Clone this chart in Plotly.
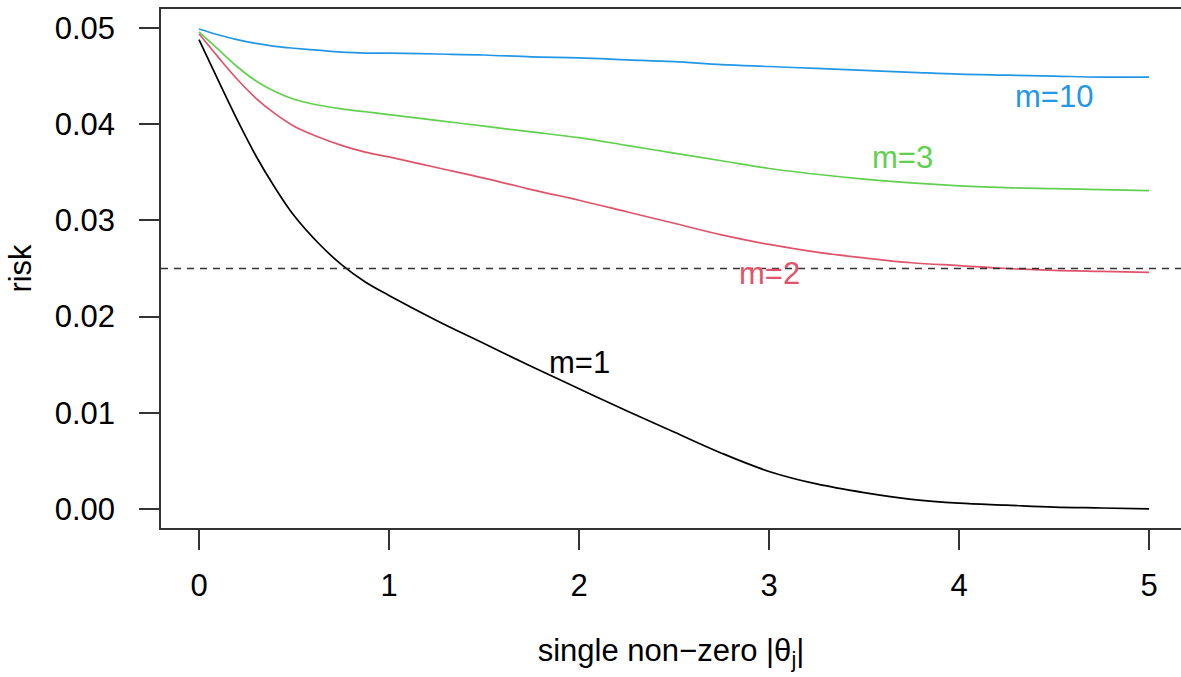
import plotly.graph_objects as go

theta = [0, 0.1, 0.2, 0.3, 0.4, 0.5, 0.625, 0.75, 0.875, 1, 1.25, 1.5, 1.75, 2,
         2.25, 2.5, 2.75, 3, 3.25, 3.5, 3.75, 4, 4.25, 4.5, 4.75, 5]
risk_m1 = [0.0488, 0.0446, 0.0405, 0.0367, 0.0334, 0.0305, 0.0277, 0.0254, 0.0236, 0.0222,
           0.0196, 0.0172, 0.0148, 0.0125, 0.0102, 0.0080, 0.0058, 0.0039, 0.0026, 0.0017,
           0.0010, 0.0006, 0.0004, 0.0002, 0.0001, 0.0000]
risk_m2 = [0.0494, 0.0470, 0.0447, 0.0427, 0.0411, 0.0398, 0.0387, 0.0378, 0.0371, 0.0366,
           0.0355, 0.0344, 0.0332, 0.0321, 0.0309, 0.0297, 0.0285, 0.0275, 0.0267, 0.0261,
           0.0256, 0.0253, 0.0250, 0.0248, 0.0247, 0.0246]
risk_m3 = [0.0496, 0.0478, 0.0460, 0.0445, 0.0434, 0.0426, 0.0420, 0.0416, 0.0413, 0.0410,
           0.0404, 0.0398, 0.0392, 0.0386, 0.0378, 0.0370, 0.0362, 0.0354, 0.0348, 0.0343,
           0.0339, 0.0336, 0.0334, 0.0333, 0.0332, 0.0331]
risk_m10 = [0.0499, 0.0493, 0.0488, 0.0484, 0.0481, 0.0479, 0.0477, 0.0475, 0.0474, 0.0474,
            0.0473, 0.0472, 0.0470, 0.0469, 0.0467, 0.0465, 0.0462, 0.0460, 0.0458, 0.0456,
            0.0454, 0.0452, 0.0451, 0.0450, 0.0449, 0.0449]

series_names = ["m=1", "m=2", "m=3", "m=10"]
series_values = [risk_m1, risk_m2, risk_m3, risk_m10]
series_colors = ["#000000", "#DF536B", "#61D04F", "#2297E6"]
label_x = [2.0, 3.0, 3.7, 4.5]
label_y = [0.0152, 0.0245, 0.0365, 0.0429]
threshold = 0.025

x_ticks = [0, 1, 2, 3, 4, 5]
y_ticks = [0.00, 0.01, 0.02, 0.03, 0.04, 0.05]
y_tick_text = ["0.00", "0.01", "0.02", "0.03", "0.04", "0.05"]

FONT = "Liberation Sans, Arial, sans-serif"
FS = 31

fig = go.Figure()
for name, vals, col in zip(series_names, series_values, series_colors):
    fig.add_trace(go.Scatter(x=theta, y=vals, mode="lines", name=name,
                             line=dict(color=col, width=1.7, shape="spline", smoothing=1.0),
                             showlegend=False, hoverinfo="skip"))

fig.add_hline(y=threshold, line=dict(color="#333333", width=1.5, dash="7px,6px"))

for name, lx, ly, col in zip(series_names, label_x, label_y, series_colors):
    fig.add_annotation(x=lx, y=ly, text=name, showarrow=False,
                       font=dict(family=FONT, size=FS, color=col),
                       xanchor="center", yanchor="middle")

fig.update_layout(
    width=1181, height=677,
    margin=dict(l=161, r=0, t=9, b=149),
    paper_bgcolor="white", plot_bgcolor="white",
    font=dict(family=FONT, size=FS, color="#000000"),
    xaxis=dict(range=[-0.2, 5.168], tickvals=x_ticks, ticks="outside", ticklen=20,
               tickwidth=1.5, tickcolor="#333333", showline=True, linecolor="#333333",
               linewidth=1.5, mirror=True, showgrid=False, zeroline=False,
               tickfont=dict(family=FONT, size=FS), ticklabelstandoff=9,
               title=dict(text="single non\u2212zero |\u03b8<sub>j</sub>|",
                          font=dict(family=FONT, size=FS), standoff=37),
               automargin=False),
    yaxis=dict(range=[-0.00198, 0.05198], tickvals=y_ticks, ticktext=y_tick_text,
               ticks="outside", ticklen=20, tickwidth=1.5, tickcolor="#333333",
               showline=True, linecolor="#333333", linewidth=1.5, mirror=False,
               showgrid=False, zeroline=False,
               tickfont=dict(family=FONT, size=FS), ticklabelstandoff=18,
               title=dict(text="risk", font=dict(family=FONT, size=FS), standoff=14),
               automargin=False),
)

fig.write_html("out.html", config={"displayModeBar": False},
               post_script="document.body.style.margin='0';document.body.style.overflow='hidden';")
